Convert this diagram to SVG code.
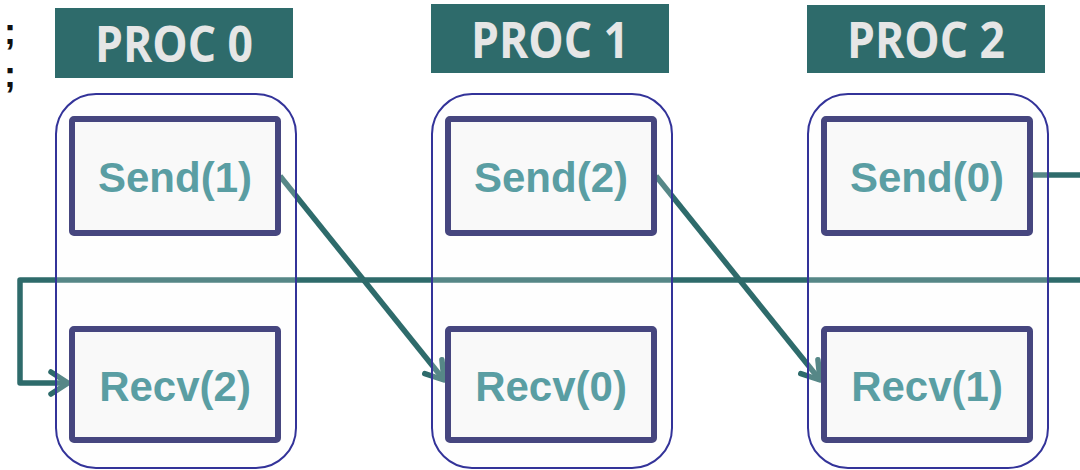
<svg xmlns="http://www.w3.org/2000/svg" width="1080" height="470" viewBox="0 0 1080 470">
<style>
.hdr{fill:#2e6b6b}
.hdrt{font-family:"Open Sans","Noto Sans",sans-serif;font-weight:bold;font-size:50px;fill:#e6e6e6;text-anchor:middle}
.cont{fill:#f9f9f9;fill-opacity:0.2;stroke:#333399;stroke-width:2}
.box{fill:#f9f9f9;stroke:#46467f;stroke-width:6}
.lbl{font-family:"Liberation Sans",Arial,sans-serif;font-weight:bold;font-size:42px;fill:#5a9ea3;text-anchor:middle}
.conn{fill:none;stroke:#2e6b6b;stroke-width:5.5;stroke-linejoin:round}
.semi{font-family:"Liberation Sans",Arial,sans-serif;font-weight:bold;font-size:36px;fill:#111;text-anchor:middle}
</style>
<defs>
<marker id="arr" markerUnits="userSpaceOnUse" markerWidth="40" markerHeight="40" viewBox="-20 -20 40 40" refX="0" refY="0" orient="auto" overflow="visible">
<path d="M -17 -11 L 0 0 L -17 11" fill="none" stroke="#2e6b6b" stroke-width="5.5" stroke-linecap="round" stroke-linejoin="round"/>
</marker>
</defs>
<rect width="1080" height="470" fill="#ffffff"/>
<text class="semi" x="10" y="44">;</text>
<text class="semi" x="10" y="87">;</text>
<g id="connectors">
<line class="conn" x1="280" y1="176" x2="444" y2="380" marker-end="url(#arr)"/>
<line class="conn" x1="656" y1="176" x2="820" y2="380" marker-end="url(#arr)"/>
<line class="conn" x1="1032" y1="175" x2="1080" y2="175"/>
<path class="conn" d="M 1080 280 L 20 280 L 20 383 L 68 383" marker-end="url(#arr)"/>
</g>
<g id="proc0">
<rect class="hdr" x="55" y="8" width="238" height="70"/>
<text class="hdrt" x="174" y="62" textLength="158" lengthAdjust="spacingAndGlyphs">PROC 0</text>
<rect class="cont" x="56" y="94" width="240" height="374" rx="40"/>
</g>
<g id="proc1">
<rect class="hdr" x="431" y="4" width="238" height="69"/>
<text class="hdrt" x="550" y="58" textLength="158" lengthAdjust="spacingAndGlyphs">PROC 1</text>
<rect class="cont" x="432" y="94" width="240" height="374" rx="40"/>
</g>
<g id="proc2">
<rect class="hdr" x="807" y="5" width="238" height="68"/>
<text class="hdrt" x="926" y="58" textLength="158" lengthAdjust="spacingAndGlyphs">PROC 2</text>
<rect class="cont" x="808" y="94" width="240" height="374" rx="40"/>
</g>
<g id="send1">
<rect class="box" x="72" y="119" width="206" height="114" rx="2"/>
<text class="lbl" x="175" y="192">Send(1)</text>
</g>
<g id="recv2">
<rect class="box" x="72" y="329" width="206" height="111" rx="2"/>
<text class="lbl" x="175" y="401">Recv(2)</text>
</g>
<g id="send2">
<rect class="box" x="448" y="119" width="206" height="114" rx="2"/>
<text class="lbl" x="551" y="192">Send(2)</text>
</g>
<g id="recv0">
<rect class="box" x="448" y="329" width="206" height="111" rx="2"/>
<text class="lbl" x="551" y="401">Recv(0)</text>
</g>
<g id="send0">
<rect class="box" x="824" y="119" width="206" height="114" rx="2"/>
<text class="lbl" x="927" y="192">Send(0)</text>
</g>
<g id="recv1">
<rect class="box" x="824" y="329" width="206" height="111" rx="2"/>
<text class="lbl" x="927" y="401">Recv(1)</text>
</g>
</svg>
